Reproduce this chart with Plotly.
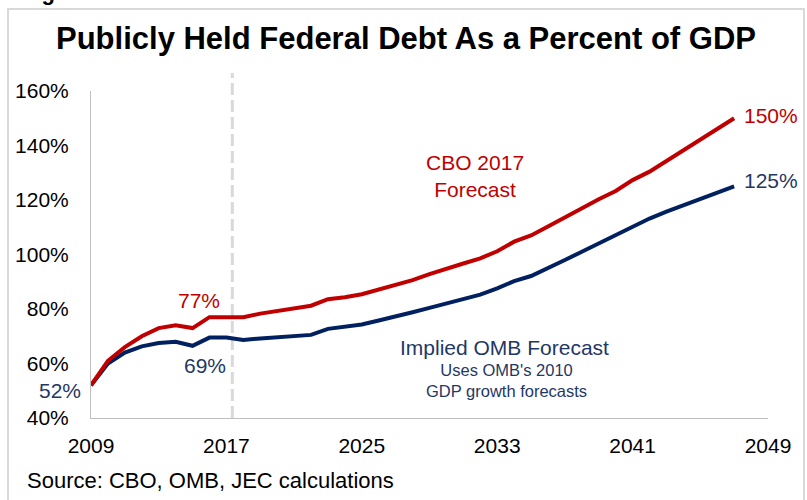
import plotly.graph_objects as go

years = list(range(2009, 2048))
cbo_2017 = [52, 61, 66, 70, 73, 74, 73, 77, 77, 77, 78.3, 79.3, 80.5, 81.2, 83.6, 84.3,
            85.4, 87.2, 88.9, 90.6, 92.8, 94.9, 96.7, 98.6, 101.2, 104.7, 107, 110.3,
            113.7, 117, 120.3, 123.3, 127.3, 130.4, 134.3, 138.3, 142.3, 146.2, 150]
omb_implied = [52, 60, 64, 66.3, 67.5, 68, 66.5, 69.5, 69.5, 68.6, 69.2, 69.6, 70.1, 70.5,
               72.7, 73.5, 74.3, 75.8, 77.2, 78.8, 80.4, 82, 83.8, 85.3, 87.6, 90.2, 92.1,
               94.9, 98, 101, 104, 106.8, 110, 113.2, 115.7, 118.1, 120.4, 122.7, 125]
x_ticks = [2009, 2017, 2025, 2033, 2041, 2049]
y_ticks = [40, 60, 80, 100, 120, 140, 160]

RED = "#c00000"
NAVY = "#002060"
BLUE_TXT = "#1f3864"
FONT = "Liberation Sans, Arial, sans-serif"

# pixel -> paper helpers (plot area: x 91..768, y 91..418)
def px(xp):
    return (xp - 91) / 677

def py(yp):
    return (418 - yp) / 327

fig = go.Figure()
fig.add_trace(go.Scatter(x=years, y=omb_implied, mode="lines",
                         line=dict(color=NAVY, width=4), name="Implied OMB Forecast",
                         hoverinfo="skip"))
fig.add_trace(go.Scatter(x=years, y=cbo_2017, mode="lines",
                         line=dict(color=RED, width=4), name="CBO 2017 Forecast",
                         hoverinfo="skip"))

ann = [
    dict(x=px(199), y=py(300), text="77%", font=dict(color=RED, size=21)),
    dict(x=px(205), y=py(365), text="69%", font=dict(color=BLUE_TXT, size=21)),
    dict(x=px(60), y=py(390), text="52%", font=dict(color=BLUE_TXT, size=21)),
    dict(x=px(771), y=py(115), text="150%", font=dict(color=RED, size=21)),
    dict(x=px(771), y=py(180), text="125%", font=dict(color=BLUE_TXT, size=21)),
    dict(x=px(475), y=py(175.5), text="CBO 2017<br>Forecast", font=dict(color=RED, size=21)),
    dict(x=px(504), y=py(347), text="Implied OMB Forecast", font=dict(color=BLUE_TXT, size=21)),
    dict(x=px(506), y=py(380), text="Uses OMB's 2010<br>GDP growth forecasts",
         font=dict(color=BLUE_TXT, size=16.5)),
]
for a in ann:
    a.update(xref="paper", yref="paper", showarrow=False, xanchor="center", yanchor="middle")
    a["font"]["family"] = FONT
fig.update_layout(annotations=ann)

fig.add_annotation(xref="paper", yref="paper", x=px(406), y=py(38),
                   text="<b>Publicly Held Federal Debt As a Percent of GDP</b>",
                   showarrow=False, xanchor="center", yanchor="middle",
                   font=dict(family=FONT, size=31, color="#000000"))
fig.add_annotation(xref="paper", yref="paper", x=px(25), y=py(480),
                   text="Source: CBO, OMB, JEC calculations",
                   showarrow=False, xanchor="left", yanchor="middle",
                   font=dict(family=FONT, size=22, color="#000000"))
fig.add_annotation(xref="paper", yref="paper", x=px(20), y=py(-8),
                   text="<b>Figure 1</b>",
                   showarrow=False, xanchor="left", yanchor="middle",
                   font=dict(family=FONT, size=22, color="#000000"))

# border
fig.add_shape(type="rect", xref="paper", yref="paper",
              x0=px(8), x1=px(804), y0=py(520), y1=py(9),
              line=dict(color="#d9d9d9", width=2), fillcolor="rgba(0,0,0,0)", layer="below")
# divider between actual and forecast
fig.add_shape(type="line", xref="x", yref="paper", x0=2017.35, x1=2017.35,
              y0=0, y1=py(73),
              line=dict(color="#d9d9d9", width=3, dash="12px,5px"), layer="below")

fig.update_layout(
    width=807, height=500,
    margin=dict(l=91, r=39, t=91, b=82, autoexpand=False),
    paper_bgcolor="white", plot_bgcolor="white",
    showlegend=False,
    font=dict(family=FONT, size=21, color="#000000"),
)
fig.update_xaxes(range=[2009, 2049], tickvals=x_ticks, ticktext=[str(v) for v in x_ticks],
                 showgrid=False, zeroline=False, showline=True, linecolor="#bfbfbf",
                 linewidth=1, ticks="", ticklabelstandoff=9,
                 tickfont=dict(family=FONT, size=21, color="#000000"), fixedrange=True)
fig.update_yaxes(range=[40, 160], tickvals=y_ticks, ticktext=[f"{v}%" for v in y_ticks],
                 showgrid=False, zeroline=False, showline=True, linecolor="#bfbfbf",
                 linewidth=1, ticks="", ticklabelstandoff=17,
                 tickfont=dict(family=FONT, size=21, color="#000000"), fixedrange=True)

fig.write_html("out.html")
